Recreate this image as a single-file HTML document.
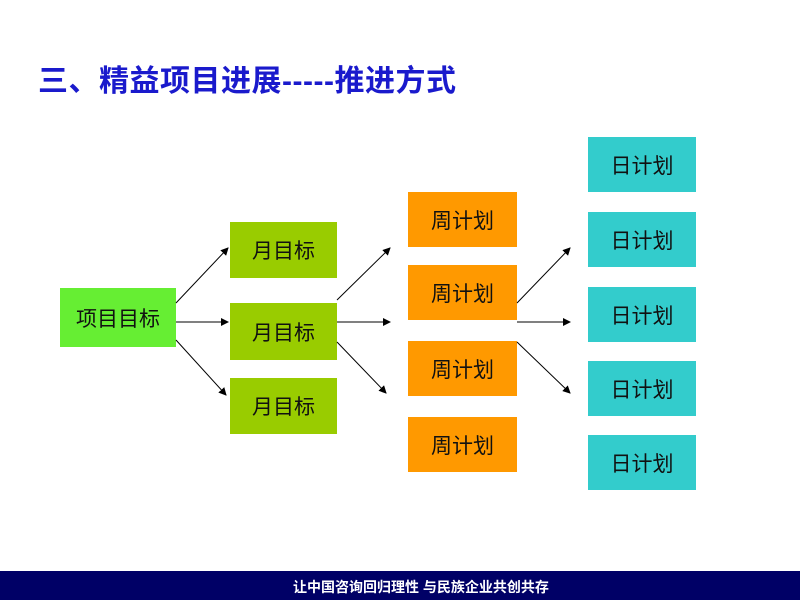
<!DOCTYPE html>
<html><head><meta charset="utf-8"><style>
body{margin:0;width:800px;height:600px;position:relative;background:#fff;overflow:hidden;font-family:"Liberation Sans","Noto Sans CJK SC",sans-serif}
.t{position:absolute;left:38px;top:56px;font-size:30px;font-weight:bold;color:#1a1acc;white-space:nowrap;letter-spacing:0.5px}
.b{position:absolute;display:flex;align-items:center;justify-content:center;font-size:21px;color:#111}
.g{background:#66ee33}.o{background:#99cc00}.r{background:#ff9900}.c{background:#33cccc}
.f{position:absolute;left:0;top:571px;width:800px;height:29px;background:#000066;color:#fff;font-size:14px;font-weight:bold}
.f span{position:absolute;left:293px;top:6px}
</style></head><body>
<div class="t">三、精益项目进展-----推进方式</div>
<div class="b g" style="left:60px;top:288px;width:116px;height:59px">项目目标</div>
<div class="b o" style="left:230px;top:222px;width:107px;height:56px">月目标</div>
<div class="b o" style="left:230px;top:303px;width:107px;height:57px">月目标</div>
<div class="b o" style="left:230px;top:378px;width:107px;height:56px">月目标</div>
<div class="b r" style="left:408px;top:192px;width:109px;height:55px">周计划</div>
<div class="b r" style="left:408px;top:265px;width:109px;height:55px">周计划</div>
<div class="b r" style="left:408px;top:341px;width:109px;height:55px">周计划</div>
<div class="b r" style="left:408px;top:417px;width:109px;height:55px">周计划</div>
<div class="b c" style="left:588px;top:137px;width:108px;height:55px">日计划</div>
<div class="b c" style="left:588px;top:212px;width:108px;height:55px">日计划</div>
<div class="b c" style="left:588px;top:287px;width:108px;height:55px">日计划</div>
<div class="b c" style="left:588px;top:361px;width:108px;height:55px">日计划</div>
<div class="b c" style="left:588px;top:435px;width:108px;height:55px">日计划</div>
<svg width="800" height="600" style="position:absolute;left:0;top:0">
<defs><marker id="a" markerWidth="8" markerHeight="8" refX="7" refY="4" orient="auto" markerUnits="userSpaceOnUse"><path d="M0,0 L8,4 L0,8z" fill="#000"/></marker></defs>
<g stroke="#000" stroke-width="1" marker-end="url(#a)">
<line x1="176" y1="303" x2="228" y2="248"/>
<line x1="176" y1="322" x2="228" y2="322"/>
<line x1="176" y1="340" x2="226" y2="395"/>
<line x1="337" y1="300" x2="390" y2="248"/>
<line x1="337" y1="322" x2="390" y2="322"/>
<line x1="337" y1="342" x2="386" y2="393"/>
<line x1="517" y1="303" x2="570" y2="248"/>
<line x1="517" y1="322" x2="570" y2="322"/>
<line x1="517" y1="342" x2="570" y2="393"/>
</g></svg>
<div class="f"><span>让中国咨询回归理性 与民族企业共创共存</span></div>
</body></html>
